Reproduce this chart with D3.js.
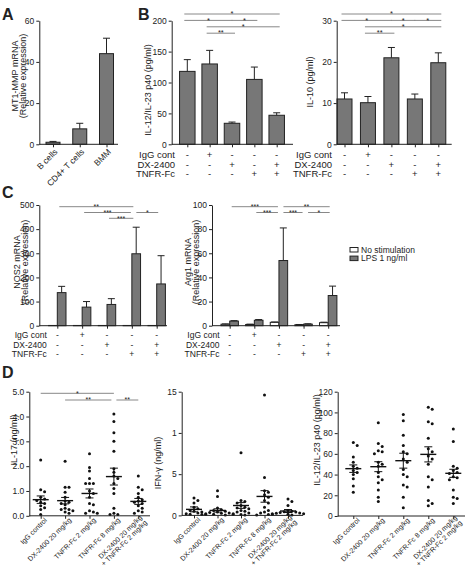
<!DOCTYPE html>
<html><head><meta charset="utf-8">
<script src="https://cdn.jsdelivr.net/npm/d3@7"></script>
<style>
body{margin:0;background:#fff;}
svg text{font-family:"Liberation Sans",Arial,sans-serif;fill:#222;}
</style></head><body>
<script>
// ================= DATA =================
const aCategories = ["B cells", "CD4+ T cells", "BMM"];
const aValues = [1.0, 7.5, 44.0];
const aErrors = [0.4, 2.7, 7.5];
const aTicks = [0, 20, 40, 60];

const treatRows = ["IgG cont", "DX-2400", "TNFR-Fc"];
const treatSigns = [
  ["-", "+", "-", "-", "-"],
  ["-", "-", "+", "-", "+"],
  ["-", "-", "-", "+", "+"]
];
const groupIds = [0, 1, 2, 3, 4];

const il12Values = [118, 130, 34, 105, 47];
const il12Errors = [19, 22, 2, 20, 4];
const il12Ticks = [0, 50, 100, 150, 200];
const il12Sig = [[0,4,"*",0],[0,2,"*",1],[2,3,"*",1],[1,4,"*",2],[1,2,"**",3]];

const il10Values = [11.0, 10.1, 21.0, 11.0, 19.8];
const il10Errors = [1.5, 1.5, 2.5, 1.2, 2.4];
const il10Ticks = [0, 10, 20, 30];
const il10Sig = [[0,4,"*",0],[0,2,"*",1],[2,3,"*",1],[3,4,"*",1],[1,4,"*",2],[1,2,"**",3]];

const nos2NoStim = [1, 1, 1, 1, 1];
const nos2NoStimErr = [0, 0, 0, 0, 0];
const nos2LPS = [137, 77, 88, 298, 173];
const nos2LPSErr = [26, 23, 24, 110, 117];
const nos2Ticks = [0, 100, 200, 300, 400, 500];
const nos2Sig = [[0,3,"**",0],[1,3,"***",1],[3,4,"*",1],[2,3,"***",2]];

const arg1NoStim = [1.2, 1.0, 2.8, 0.8, 2.5];
const arg1NoStimErr = [0.3, 0.3, 0.3, 0.2, 0.4];
const arg1LPS = [3.8, 4.5, 54, 1.3, 25];
const arg1LPSErr = [0.4, 0.6, 27, 0.3, 7.8];
const arg1Ticks = [0, 20, 40, 60, 80, 100];
const arg1Sig = [[0,2,"***",0],[2,4,"**",0],[1,2,"***",1],[2,3,"***",1],[3,4,"*",1]];

const legendLabels = ["No stimulation", "LPS 1 ng/ml"];

const dCategories = [["IgG control"], ["DX-2400 20 mg/kg"], ["TNFR-Fc 2 mg/kg"], ["TNFR-Fc 8 mg/kg"], ["DX-2400 20 mg/kg", "+ TNFR-Fc 2 mg/kg"]];

const il17Points = [
  [2.25, 1.05, 0.97, 0.75, 0.68, 0.62, 0.55, 0.5, 0.4, 0.32, 0.25, 0.05],
  [2.2, 1.15, 1.15, 0.95, 0.75, 0.6, 0.55, 0.5, 0.45, 0.3, 0.25, 0.25, 0.2, 0.15, 0.1],
  [2.5, 1.95, 1.8, 1.5, 1.3, 1.3, 1.3, 1.0, 0.9, 0.75, 0.5, 0.45, 0.2, 0.15, 0.1, 0.1],
  [4.1, 3.8, 3.35, 3.0, 2.6, 1.9, 1.75, 1.6, 1.5, 1.3, 1.1, 0.9, 0.3, 0.1, 0.05, 0.05],
  [1.6, 1.15, 1.05, 0.9, 0.75, 0.65, 0.6, 0.55, 0.5, 0.4, 0.3, 0.2, 0.15, 0.1]
];
const il17Means = [0.65, 0.61, 0.9, 1.58, 0.58];
const il17Sem = [0.15, 0.13, 0.18, 0.34, 0.12];
const il17Ticks = [0, 1, 2, 3, 4, 5];
const il17Sig = [[0,3,"*",0],[1,3,"**",1],[3,4,"**",1]];

const ifnPoints = [
  [2.1, 1.8, 1.5, 1.0, 0.8, 0.6, 0.5, 0.4, 0.3, 0.2, 0.15, 0.1],
  [3.0, 2.3, 0.9, 0.7, 0.6, 0.5, 0.4, 0.35, 0.3, 0.25, 0.2, 0.15, 0.1, 0.1, 0.05],
  [7.6, 1.8, 1.7, 1.5, 1.2, 1.0, 0.9, 0.8, 0.6, 0.5, 0.4, 0.3, 0.2, 0.1, 0.05],
  [14.6, 4.6, 3.0, 2.8, 2.5, 2.2, 1.8, 1.5, 1.0, 0.6, 0.4, 0.3, 0.2, 0.1, 0.05],
  [2.0, 1.7, 1.2, 0.6, 0.5, 0.45, 0.4, 0.35, 0.3, 0.25, 0.2, 0.15, 0.1, 0.05]
];
const ifnMeans = [0.73, 0.6, 1.2, 2.3, 0.53];
const ifnSem = [0.3, 0.2, 0.35, 0.7, 0.18];
const ifnTicks = [0, 5, 10, 15];
const ifnTickLabels = ["0", "5", "1", "15"];

const p40Points = [
  [71, 68, 57, 52, 48, 46, 44, 42, 40, 36, 29, 23],
  [90, 70, 67, 63, 62, 60, 52, 50, 48, 42, 38, 35, 32, 25, 18, 14],
  [98, 92, 78, 68, 62, 60, 55, 52, 45, 40, 38, 30, 28, 18, 8],
  [105, 103, 91, 89, 75, 65, 62, 58, 55, 50, 38, 35, 28, 15, 12, 10],
  [84, 72, 48, 46, 44, 42, 41, 38, 37, 35, 25, 18, 17, 12]
];
const p40Means = [45.7, 47.6, 53.4, 59.5, 41.2];
const p40Sem = [3.6, 4.8, 7.2, 7.3, 3.9];
const p40Ticks = [0, 20, 40, 60, 80, 100, 120];

// ================= DRAWING =================
const W = 467, H = 570;
const INK = "#222", BAR = "#777", SIG = "#888";
const svg = d3.select("body").append("svg").attr("width", W).attr("height", H);

function yAxis(scale, x, ticks, labels, fs) {
  const ax = d3.axisLeft(scale).tickValues(ticks).tickSize(3).tickSizeOuter(0).tickPadding(2);
  if (labels) ax.tickFormat((d, i) => labels[i]);
  const g = svg.append("g").attr("transform", `translate(${x},0)`).call(ax);
  g.selectAll("text").style("font-size", (fs || 8) + "px").attr("fill", INK);
  g.selectAll("line,path").attr("stroke", INK);
  return g;
}
function xAxis(scale, x0, x1, y) {
  const g = svg.append("g").attr("transform", `translate(0,${y})`)
    .call(d3.axisBottom(scale).tickSize(3).tickFormat(""));
  g.select(".domain").remove();
  g.selectAll("line").attr("stroke", INK);
  svg.append("line").attr("x1", x0).attr("x2", x1).attr("y1", y).attr("y2", y).attr("stroke", INK);
}
function yTitle(lines, cx, cy, gap, fs) {
  lines.forEach((t, i) => {
    svg.append("text").attr("transform", `translate(${cx + i * gap},${cy}) rotate(-90)`)
      .attr("text-anchor", "middle").attr("dy", "0.35em").style("font-size", (fs || 8.5) + "px").text(t);
  });
}
function bars(xc, y, vals, errs, bw, offset, fill) {
  vals.forEach((v, i) => {
    const x0 = xc(i) + offset;
    svg.append("rect").attr("x", x0).attr("y", y(v)).attr("width", bw).attr("height", y(0) - y(v))
      .attr("fill", fill).attr("stroke", INK).attr("stroke-width", 1);
    if (errs[i] > 0) {
      const cx = x0 + bw / 2;
      svg.append("line").attr("x1", cx).attr("x2", cx).attr("y1", y(v)).attr("y2", y(v + errs[i])).attr("stroke", INK);
      svg.append("line").attr("x1", cx - 3.5).attr("x2", cx + 3.5).attr("y1", y(v + errs[i])).attr("y2", y(v + errs[i])).attr("stroke", INK);
    }
  });
}
function sigLines(sigs, xc, yTop, step, oL, oR, fs) {
  sigs.forEach(([i, j, lab, lev]) => {
    const y = yTop + lev * step;
    let x1 = xc(i) + oL, x2 = xc(j) + oR;
    if (sigs.some(s => s[3] === lev && s[1] === i)) x1 += 2.5;
    if (sigs.some(s => s[3] === lev && s[0] === j)) x2 -= 2.5;
    svg.append("line").attr("x1", x1).attr("x2", x2).attr("y1", y).attr("y2", y).attr("stroke", SIG).attr("stroke-width", 1);
    svg.append("text").attr("x", (x1 + x2) / 2).attr("y", y + 2.2).attr("text-anchor", "middle")
      .style("font-size", (fs || 7.5) + "px").text(lab);
  });
}
function treatTable(xc, labelX, rowY, rowStep, fs) {
  treatRows.forEach((r, k) => {
    const y = rowY + k * rowStep;
    svg.append("text").attr("x", labelX).attr("y", y).attr("text-anchor", "end").style("font-size", fs + "px").text(r);
    treatSigns[k].forEach((s, i) => {
      svg.append("text").attr("x", xc(i)).attr("y", y).attr("text-anchor", "middle").style("font-size", fs + "px").text(s);
    });
  });
}
function letter(t, x, y) {
  svg.append("text").attr("x", x).attr("y", y).style("font-size", "16px").style("font-weight", "bold").text(t);
}

// ---------- Panel A ----------
letter("A", 2, 20);
{
  const y = d3.scaleLinear().domain([0, 60]).range([144.3, 20.7]);
  const x = d3.scalePoint().domain(d3.range(aCategories.length)).range([53, 106.5]);
  bars(i => x(i), y, aValues, aErrors, 14, -7, BAR);
  yAxis(y, 39.3, aTicks, null, 8.5);
  xAxis(x, 39.3, 118, y(0));
  aCategories.forEach((c, i) => {
    svg.append("text").attr("transform", `translate(${x(i) + 3},${y(0) + 6}) rotate(-45)`)
      .attr("text-anchor", "end").attr("dy", "0.35em").style("font-size", "8.5px").text(c);
  });
  yTitle(["MT1-MMP mRNA", "(Relative expression)"], 14.5, 76, 8.5, 9);
}

// ---------- Panel B ----------
letter("B", 138, 20);
{
  const y = d3.scaleLinear().domain([0, 200]).range([144.3, 20.7]);
  const x = d3.scalePoint().domain(groupIds).range([187.3, 276.7]);
  bars(i => x(i), y, il12Values, il12Errors, 15.5, -7.75, BAR);
  yAxis(y, 171.7, il12Ticks, null, 8.5);
  xAxis(x, 171.7, 293, y(0));
  sigLines(il12Sig, i => x(i), 14, 6.4, -3, 3);
  treatTable(i => x(i), 175, 158, 9.7, 9.5);
  yTitle(["IL-12/IL-23 p40 (pg/ml)"], 148, 90, 0, 9);
}
{
  const y = d3.scaleLinear().domain([0, 30]).range([144.3, 20.7]);
  const x = d3.scalePoint().domain(groupIds).range([344.5, 438.3]);
  bars(i => x(i), y, il10Values, il10Errors, 15, -7.5, BAR);
  yAxis(y, 336.7, il10Ticks, null, 8.5);
  xAxis(x, 336.7, 451.7, y(0));
  sigLines(il10Sig, i => x(i), 14, 6.4, -3, 3);
  treatTable(i => x(i), 332, 158, 9.7, 9.5);
  yTitle(["IL-10 (pg/ml)"], 310, 82, 0, 9);
}

// ---------- Panel C ----------
letter("C", 2, 198);
function groupedPanel(yDomain, ticks, axisX, endX, c0, c1, noStim, noStimErr, lps, lpsErr, sig, titles, titleX) {
  const y = d3.scaleLinear().domain(yDomain).range([325.7, 205]);
  const x = d3.scalePoint().domain(groupIds).range([c0, c1]);
  const bw = 8.7;
  bars(i => x(i), y, noStim, noStimErr, bw, -bw, "#fff");
  bars(i => x(i), y, lps, lpsErr, bw, 0, BAR);
  yAxis(y, axisX, ticks, null, 8.5);
  xAxis(x, axisX, endX, y(0));
  sigLines(sig, i => x(i), 206.7, 5.8, 2, 1.5, 7);
  treatTable(i => x(i), axisX + 7.5, 338, 9.7, 8.5);
  yTitle(titles, titleX, 262, 8.5, 9);
}
groupedPanel([0, 500], nos2Ticks, 39.3, 167, 57.3, 156.7, nos2NoStim, nos2NoStimErr, nos2LPS, nos2LPSErr, nos2Sig,
  ["NOS2 mRNA", "(Relative expression)"], 16.5);
groupedPanel([0, 100], arg1Ticks, 212, 340, 229.7, 328.2, arg1NoStim, arg1NoStimErr, arg1LPS, arg1LPSErr, arg1Sig,
  ["Arg1 mRNA", "(Relative expression)"], 187.5);
// legend
legendLabels.forEach((l, i) => {
  const yy = 247.5 + i * 8.6;
  svg.append("rect").attr("x", 350).attr("y", yy).attr("width", 8).attr("height", 4.5)
    .attr("fill", i === 0 ? "#fff" : BAR).attr("stroke", INK);
  svg.append("text").attr("x", 361).attr("y", yy + 5).style("font-size", "8.5px").text(l);
});

// ---------- Panel D ----------
letter("D", 2, 378);
function scatterPanel(points, means, sems, ticks, tickLabels, domain, yRange, axisX, endX, c0, c1, title, tX, tY, sig) {
  const y = d3.scaleLinear().domain(domain).range(yRange);
  const x = d3.scalePoint().domain(groupIds).range([c0, c1]);
  const r = 1.5;
  points.forEach((vals, gi) => {
    const cx = x(gi);
    const placed = [];
    vals.map(v => ({ py: y(v) })).sort((a, b) => a.py - b.py).forEach(p => {
      for (let n = 0; n < 40; n++) {
        const off = n === 0 ? 0 : (n % 2 ? 1 : -1) * Math.ceil(n / 2) * (2 * r + 0.9);
        const px = cx + off;
        if (placed.every(q => Math.hypot(q.px - px, q.py - p.py) >= 2 * r + 0.7)) { p.px = px; break; }
      }
      placed.push(p);
    });
    placed.forEach(p => svg.append("circle").attr("cx", p.px).attr("cy", p.py).attr("r", r).attr("fill", "#111"));
    const m = means[gi], s = sems[gi];
    svg.append("line").attr("x1", cx - 8).attr("x2", cx + 8).attr("y1", y(m)).attr("y2", y(m)).attr("stroke", "#111").attr("stroke-width", 1.4);
    svg.append("line").attr("x1", cx).attr("x2", cx).attr("y1", y(m + s)).attr("y2", y(m - s)).attr("stroke", "#111");
    [m + s, m - s].forEach(v => svg.append("line").attr("x1", cx - 4).attr("x2", cx + 4).attr("y1", y(v)).attr("y2", y(v)).attr("stroke", "#111"));
  });
  yAxis(y, axisX, ticks, tickLabels, 8.5);
  xAxis(x, axisX, endX, y(0));
  dCategories.forEach((lines, i) => {
    const t = svg.append("text").attr("transform", `translate(${x(i) + 5},${y(0) + 3}) rotate(-45)`)
      .attr("text-anchor", "end").style("font-size", "7px");
    const first = 0.35 - 0.5 * (lines.length - 1);
    lines.forEach((l, k) => t.append("tspan").attr("x", 0).attr("dy", (k === 0 ? first : 1) + "em").text(l));
  });
  yTitle([title], tX, tY, 0, 9);
  if (sig) sigLines(sig, i => x(i), 393.3, 6.7, 0, 0, 7);
}
scatterPanel(il17Points, il17Means, il17Sem, il17Ticks, null, [0, 5], [515.8, 391.7], 29.3, 150, 40.7, 138.3,
  "IL-17 (ng/ml)", 13.5, 440, il17Sig);
scatterPanel(ifnPoints, ifnMeans, ifnSem, ifnTicks, ifnTickLabels, [0, 15], [515.4, 391.7], 181.7, 303, 194, 288,
  "IFN-γ (ng/ml)", 158, 463, null);
scatterPanel(p40Points, p40Means, p40Sem, p40Ticks, null, [0, 120], [516, 391.7], 337.7, 465, 353.3, 453.3,
  "IL-12/IL-23 p40 (pg/ml)", 316.5, 440, null);
</script></body></html>
